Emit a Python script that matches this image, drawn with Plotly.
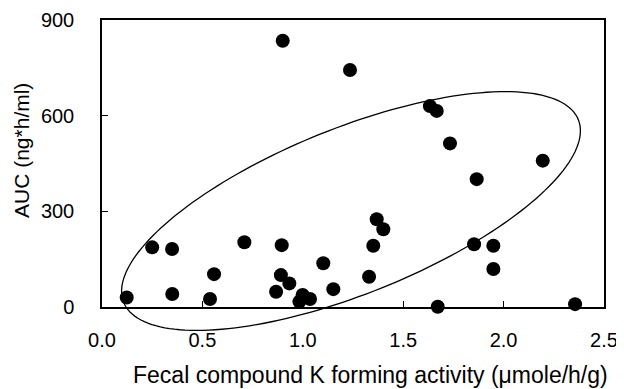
import numpy as np
import plotly.graph_objects as go

# Data
activity = [0.90, 1.235, 1.633, 1.667, 1.733, 2.195, 1.866, 1.368, 1.401, 1.351,
            1.102, 1.33, 1.152, 1.853, 1.949, 1.949, 1.672, 2.356, 0.999, 1.036,
            0.983, 0.123, 0.25, 0.349, 0.35, 0.558, 0.538, 0.709, 0.895, 0.891,
            0.933, 0.867]
auc = [835, 743, 630, 615, 513, 459, 401, 275, 244, 192,
       137, 95, 56, 197, 192, 119, 1, 9, 38, 25,
       17, 30, 187, 182, 41, 103, 25, 203, 194, 100,
       74, 48]

x_ticks = [0.0, 0.5, 1.0, 1.5, 2.0, 2.5]
y_ticks = [0, 300, 600, 900]
x_range = [0, 2.5]
y_range = [0, 900]

# Ellipse (drawn as an outline around the point cloud)
ell_center = (1.24, 301)      # data units
ell_a_px, ell_b_px, ell_angle_deg = 245.0, 82.8, 21.9

# page body has an 8px margin, so the figure is sized to fit the window
OFF = 8
W, H = 624 - OFF, 389 - OFF
ML, MT = 102 - OFF, 20 - OFF
PW, PH = 502, 287
MR, MB = W - ML - PW, H - MT - PH

fig = go.Figure()
fig.add_trace(go.Scatter(
    x=activity, y=auc, mode="markers",
    marker=dict(size=14, color="black"),
    cliponaxis=False, showlegend=False, hoverinfo="x+y"))

# ellipse path in axis-domain coordinates
cx = (ell_center[0] - x_range[0]) / (x_range[1] - x_range[0])
cy = (ell_center[1] - y_range[0]) / (y_range[1] - y_range[0])
th = np.deg2rad(ell_angle_deg)
t = np.linspace(0, 2 * np.pi, 181)
px = ell_a_px * np.cos(t) * np.cos(th) - ell_b_px * np.sin(t) * np.sin(th)
py = ell_a_px * np.cos(t) * np.sin(th) + ell_b_px * np.sin(t) * np.cos(th)
xs = cx + px / PW
ys = cy + py / PH
path = "M " + " L ".join(f"{a:.5f},{b:.5f}" for a, b in zip(xs, ys)) + " Z"
fig.add_shape(type="path", path=path, xref="x domain", yref="y domain",
              line=dict(color="black", width=1.3), layer="above")

font = dict(family="Liberation Sans, Arial, sans-serif", size=20, color="black")


def sx(px_screen):
    return (px_screen - OFF - ML) / PW


def sy(py_screen):
    return (MT + PH - (py_screen - OFF)) / PH


fig.update_layout(
    width=W, height=H,
    margin=dict(l=ML, r=MR, t=MT, b=MB, autoexpand=False),
    paper_bgcolor="white", plot_bgcolor="white",
    font=font,
    xaxis=dict(range=x_range, tickvals=x_ticks, ticktext=[f"{v:.1f}" for v in x_ticks],
               ticks="inside", ticklen=6, tickwidth=1.3, tickcolor="black",
               showline=True, linecolor="black", linewidth=1.5, mirror=True,
               showgrid=False, zeroline=False, tickfont=font, ticklabelstandoff=14,
               automargin=False),
    yaxis=dict(range=y_range, tickvals=y_ticks,
               ticks="inside", ticklen=6, tickwidth=1.3, tickcolor="black",
               showline=True, linecolor="black", linewidth=1.5, mirror=True,
               showgrid=False, zeroline=False, tickfont=font, ticklabelstandoff=22,
               automargin=False),
    annotations=[
        dict(text="Fecal compound K forming activity (\u03bcmole/h/g)",
             xref="paper", yref="paper", x=sx(370), y=sy(390),
             xanchor="center", yanchor="bottom", showarrow=False,
             font=dict(family=font["family"], size=23, color="black")),
        dict(text="AUC (ng*h/ml)", textangle=-90,
             xref="paper", yref="paper", x=sx(21), y=sy(151),
             xanchor="center", yanchor="middle", showarrow=False,
             font=dict(family=font["family"], size=21, color="black")),
    ],
)

fig.write_html("out.html")
